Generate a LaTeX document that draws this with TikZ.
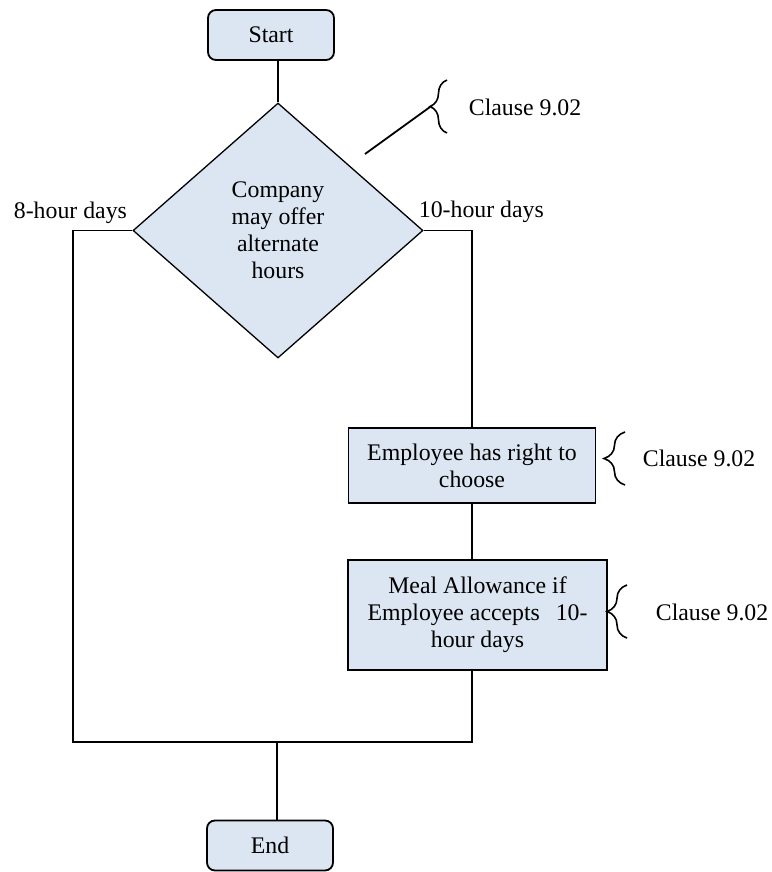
\documentclass[tikz,border=0pt]{standalone}
\usepackage{fontspec}
\setmainfont{Liberation Serif}
\usetikzlibrary{shapes.geometric,decorations.pathreplacing}
\definecolor{boxfill}{HTML}{DCE6F2}
\tikzset{term/.style={draw,rounded corners=4pt,fill=boxfill,minimum width=63pt,minimum height=25pt,line width=0.9pt},
	decision/.style={draw,diamond,fill=boxfill,minimum width=145pt,minimum height=127.5pt,inner sep=0pt,align=center,line width=0.65pt},
	process/.style={draw,fill=boxfill,align=center,inner sep=0pt,line width=0.9pt},
	clause/.style={decorate,decoration={brace,amplitude=#1},line width=0.8pt},
	lbl/.style={inner sep=0pt,anchor=west}}

\begin{document}
\begin{tikzpicture}
	[x=0.5pt,y=-0.5pt,line width=0.9pt,every node/.style={font=\fontsize{11.9}{13.5}\selectfont}]
	\useasboundingbox (0,0) rectangle (771,872);
	% flow
	\node [term] (start) at (271,35) {Start};
	\node [decision] (dia) at (278,230.5) {Company\\may offer\\alternate\\hours};
	\node [process,minimum width=123.5pt,minimum height=37.5pt] (box1) at (472,465.5) {Employee has right to\\choose};
	\node [process,minimum width=129.5pt,minimum height=55pt] (box2) at (477.5,615) {Meal Allowance if\\\makebox[110pt][l]{Employee accepts\hfill 10-}\\hour days};
	\node [term] (end) at (270,845.5) {End};
	\node [lbl] (eight) at (13,213) {8-hour days};
	\node [lbl] (ten) at (418,212) {10-hour days};
	\coordinate (lcorner) at (73,742);
	\coordinate (join) at (277,742);
	\draw (dia.north |- start.south) -- (dia.north);
	\draw (dia.east) -| (box1.north);
	\draw (box1.south) -- (box1.south |- box2.north);
	\draw (box1.south |- box2.south) |- (lcorner) |- (dia.west);
	\draw (join) -- (join |- end.north);
	% clauses
	\coordinate (callfrom) at (365,154);
	\coordinate (tip1) at (430,107);
	\draw [clause=8.5pt] (447,133) -- (447,80);
	\draw (callfrom) -- (tip1);
	\node [lbl] (cl1) at (468,107) {Clause 9.02};
	\draw [clause=10.5pt] (625,485) -- (625,432);
	\node [lbl] (cl2) at (642,458) {Clause 9.02};
	\draw [clause=10pt] (627,638) -- (627,585);
	\node [lbl] (cl3) at (655,612) {Clause 9.02};
\end{tikzpicture}
\end{document}
